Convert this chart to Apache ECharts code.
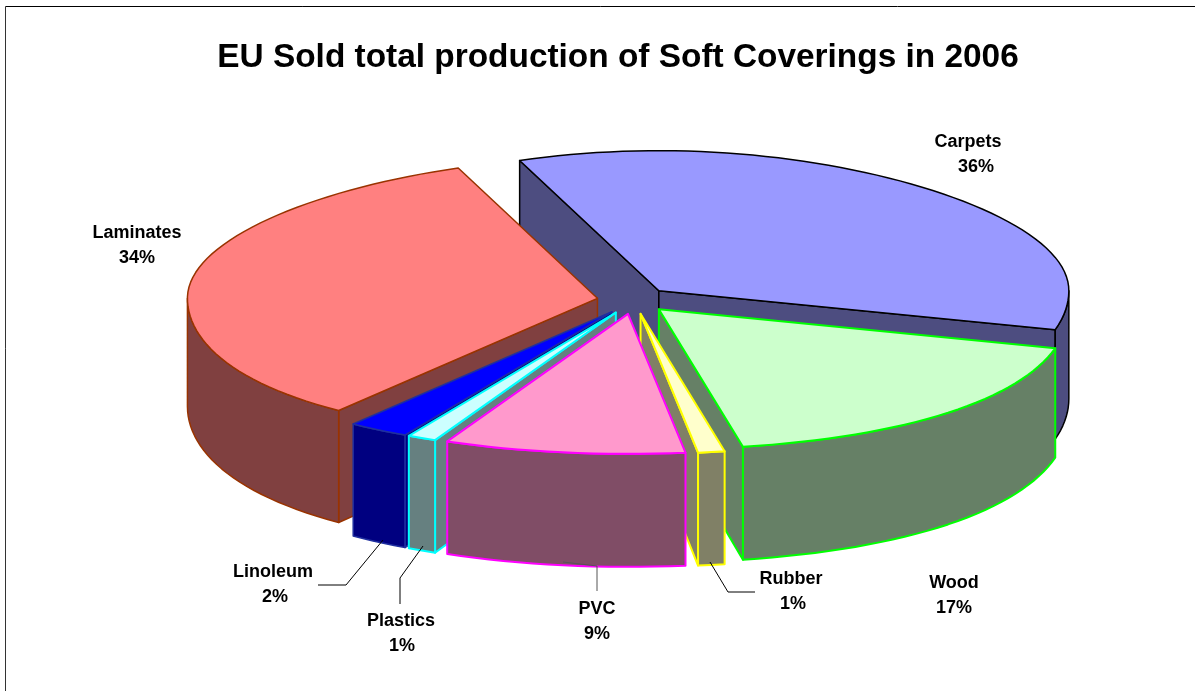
<!DOCTYPE html>
<html><head><meta charset="utf-8">
<style>html,body{margin:0;padding:0;background:#fff}#c{width:1195px;height:691px}</style>
<script src="https://cdn.jsdelivr.net/npm/echarts@6/dist/echarts.min.js"></script>
</head><body><div id="c"></div>
<script>
// DATA (clockwise pie order). Values are estimates; labels show them rounded.
const categories = ['Carpets','Wood','Rubber','PVC','Plastics','Linoleum','Laminates'];
const shares = [35.5,17.49,0.97,8.83,1.1,2.36,33.85];
// STYLE / LAYOUT
const topColors  = ['#9999FF','#CCFFCC','#FFFFCC','#FF99CC','#CCFFFF','#0000FF','#FF8080'];
const sideColors = ['#4D4D80','#668066','#808066','#804D66','#668080','#000080','#804040'];
const edgeColors = ['#000000','#00FF00','#FFFF00','#FF00FF','#00FFFF','#1F2F9F','#993300'];
const edgeWidths = [1.5,2,2,2,2,1.5,1.5];
const explode    = [0.09,0.09,0.10,0.10,0.10,0.10,0.09];
const drawOrder  = [0,6,5,4,1,2,3];
const pie = {cx:634, cy:300, rx:410, ry:140, depth:108, depthPersp:5, xPersp:0.085, start:-21.5};
const labelLayout = {
  Carpets:  {x:968, y:142, dx:8},
  Laminates:{x:137, y:233, dx:0},
  Linoleum: {x:273, y:572, dx:2, line:[[383,540],[346,585],[318,585]]},
  Plastics: {x:401, y:621, dx:1, line:[[423,546],[400,578],[400,604]]},
  PVC:      {x:597, y:609, dx:0, line:[[563,562],[597,566],[597,591]], lineColor:'#555'},
  Rubber:   {x:791, y:579, dx:2, line:[[710,562],[728,592],[755,592]]},
  Wood:     {x:954, y:583, dx:0}
};
const labelFont = 'bold 18px "Liberation Sans", Arial, sans-serif';

const total = shares.reduce((a,b)=>a+b,0);
const bounds = []; let acc = pie.start;
shares.forEach(v=>{const s=acc; acc+=v/total*360; bounds.push([s,acc]);});
const rad = d=>d*Math.PI/180;

function sliceShapes(i){
  const [a,b]=bounds[i], mid=rad((a+b)/2), e=explode[i];
  const ox=pie.cx+e*pie.rx*Math.sin(mid), oy=pie.cy-e*pie.ry*Math.cos(mid);
  const at=(deg,low)=>{
    const c=Math.cos(rad(deg)), s=Math.sin(rad(deg));
    return [ox+pie.rx*s*(1-pie.xPersp*c*Math.abs(c)), oy-pie.ry*c+(low?pie.depth-pie.depthPersp*c:0)];
  };
  const arc=(from,to,low)=>{const pts=[],n=Math.max(2,Math.ceil(Math.abs(to-from)/2));
    for(let k=0;k<=n;k++)pts.push(at(from+(to-from)*k/n,low));return pts;};
  const H=pie.depth, out=[];
  const style=(fill)=>({fill:fill,stroke:edgeColors[i],lineWidth:edgeWidths[i],lineJoin:'round'});
  const poly=(pts,fill)=>out.push({type:'polygon',shape:{points:pts},style:style(fill)});
  if(Math.sin(rad(a))<0) poly([[ox,oy],at(a,false),at(a,true),[ox,oy+H]],sideColors[i]);
  if(Math.sin(rad(b))>0) poly([[ox,oy],at(b,false),at(b,true),[ox,oy+H]],sideColors[i]);
  // visible part of the rim: the front half of the ellipse, 90..270 degrees
  const f=Math.max(a,90), t=Math.min(b,270);
  if(t>f) poly(arc(f,t,false).concat(arc(t,f,true)),sideColors[i]);
  poly([[ox,oy]].concat(arc(a,b,false)),topColors[i]);
  return out;
}

const chart=echarts.init(document.getElementById('c'),null,{renderer:'canvas'});
chart.setOption({
  animation:false,
  backgroundColor:'#fff',
  title:{text:'EU Sold total production of Soft Coverings in 2006',left:613,top:36,textAlign:'center',
    textStyle:{fontFamily:'"Liberation Sans", Arial, sans-serif',fontWeight:'bold',fontSize:33.4,color:'#000'}},
  graphic:[
    {type:'line',shape:{x1:5.5,y1:6.5,x2:1195,y2:6.5},style:{stroke:'#000',lineWidth:1}},
    {type:'line',shape:{x1:5.5,y1:6.5,x2:5.5,y2:691},style:{stroke:'#333',lineWidth:1}}
  ],
  series:[
    {type:'custom',coordinateSystem:'none',silent:true,
     data:drawOrder.map(i=>[i,shares[i]]),
     renderItem:(p,api)=>({type:'group',children:sliceShapes(api.value(0))})},
    {type:'custom',coordinateSystem:'none',silent:true,z:5,
     data:categories.map((c,i)=>[i,shares[i]]),
     renderItem:(p,api)=>{
       const i=api.value(0), name=categories[i], L=labelLayout[name], kids=[];
       if(L.line) kids.push({type:'polyline',shape:{points:L.line},style:{fill:null,stroke:L.lineColor||'#000',lineWidth:1}});
       kids.push({type:'text',style:{text:name,x:L.x,y:L.y,align:'center',verticalAlign:'middle',font:labelFont,fill:'#000'}});
       kids.push({type:'text',style:{text:Math.round(api.value(1))+'%',x:L.x+L.dx,y:L.y+25,align:'center',verticalAlign:'middle',font:labelFont,fill:'#000'}});
       return {type:'group',children:kids};
     }}
  ]
});
</script></body></html>
